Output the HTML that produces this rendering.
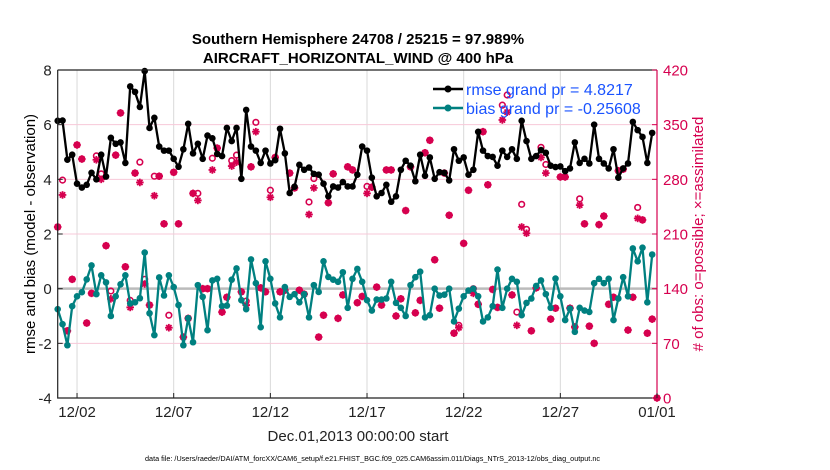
<!DOCTYPE html>
<html><head><meta charset="utf-8"><style>
body{margin:0;background:#fff;}
svg{display:block;font-family:"Liberation Sans",sans-serif;}
</style></head><body>
<svg id="chart" width="830" height="470" viewBox="0 0 830 470" xmlns="http://www.w3.org/2000/svg">
<rect width="830" height="470" fill="#fff"/>
<g id="grid"></g>
<g id="marks"></g>
<g id="axes"></g>
<text x="358" y="44" text-anchor="middle" font-size="15" font-weight="bold">Southern Hemisphere 24708 / 25215 = 97.989%</text>
<text x="358" y="63" text-anchor="middle" font-size="15" font-weight="bold">AIRCRAFT_HORIZONTAL_WIND @ 400 hPa</text>
<text transform="translate(35,234) rotate(-90)" text-anchor="middle" font-size="15">rmse and bias (model - observation)</text>
<text transform="translate(703,234) rotate(-90)" text-anchor="middle" font-size="15" fill="#d6004f"># of obs: o=possible; ×=assimilated</text>
<text x="358" y="441" text-anchor="middle" font-size="15" fill="#222">Dec.01,2013 00:00:00 start</text>
<text x="145" y="461" font-size="7" textLength="455" lengthAdjust="spacingAndGlyphs" fill="#000">data file: /Users/raeder/DAI/ATM_forcXX/CAM6_setup/f.e21.FHIST_BGC.f09_025.CAM6assim.011/Diags_NTrS_2013-12/obs_diag_output.nc</text>
<g>
<line x1="433" y1="89" x2="463" y2="89" stroke="#000" stroke-width="2.5"/>
<circle cx="448" cy="89" r="3.5" fill="#000"/>
<text x="466" y="95" font-size="16" fill="#1a53ff">rmse grand pr = 4.8217</text>
<line x1="433" y1="108" x2="463" y2="108" stroke="#008080" stroke-width="2.5"/>
<circle cx="448" cy="108" r="3.5" fill="#008080"/>
<text x="466" y="114" font-size="16" fill="#1a53ff">bias grand pr = -0.25608</text>
</g>
</svg>
<script>
const rmse=[6.14,6.15,4.72,4.9,3.84,3.7,3.8,4.24,4.0,4.9,4.1,5.52,5.3,5.35,4.6,7.4,7.2,6.65,7.96,5.88,6.25,5.2,5.05,5.05,4.75,4.46,5.1,6.03,4.95,5.3,4.75,
5.6,5.5,4.93,4.85,5.88,5.4,5.88,4.02,6.54,5.2,5.05,4.6,5.05,4.58,4.7,5.85,4.95,3.5,3.73,4.53,4.35,4.43,4.2,4.17,3.84,3.38,3.74,3.7,3.9,3.74,
3.74,4.17,5.2,5.05,4.06,3.38,3.5,3.8,3.18,3.38,4.35,4.68,4.5,3.93,4.9,4.13,4.8,4.02,4.26,4.24,3.96,5.1,4.68,4.8,4.17,4.35,5.74,5.05,4.85,4.82,
4.5,5.05,4.82,5.1,4.75,6.14,5.4,4.75,4.85,5.07,4.97,4.5,4.45,4.47,4.3,4.4,5.35,4.6,4.75,4.58,6.0,4.75,4.58,4.4,5.1,4.06,4.4,4.58,6.1,5.8,
5.55,4.6,5.7];
const bias=[-0.75,-1.3,-2.07,-0.64,-0.28,-0.13,0.34,0.85,-0.2,0.49,0.23,-1.0,-0.28,0.16,0.49,-0.54,-0.5,-0.35,1.32,-0.9,-1.7,0.41,-0.25,0.49,0.06,-0.6,-2.07,-1.08,-1.96,0.13,-0.3,
-1.52,0.3,0.36,-0.64,-0.62,0.33,0.74,-0.42,-0.75,1.07,0.2,-1.41,1.0,0.36,-0.54,-1.05,0.06,-0.3,-0.2,-0.5,-0.2,-1.05,0.13,-0.12,1.0,0.43,0.33,0.25,0.6,-0.7,
0.36,0.72,0.25,-0.42,-0.8,-0.4,-0.4,-0.36,0.25,-0.52,-0.7,-1.0,0.13,0.42,0.62,-1.05,-0.97,0.0,-0.25,-0.22,0.0,-1.2,-0.73,-0.28,-0.07,0.0,-0.28,-1.2,-1.05,-0.64,
0.7,-0.7,0.0,0.36,0.25,-0.97,-0.52,-0.36,0.1,0.3,-0.2,-0.7,0.37,-0.28,-1.15,-0.73,-1.58,-0.7,-0.8,-0.85,0.2,0.36,0.2,0.36,-1.15,-0.36,0.42,-0.28,1.47,1.0,
1.5,-0.5,1.25];
const nAssim=[219,260,86,152,324,306,96,134,305,280,195,127,311,365,168,116,288,276,146,119,259,284,223,90,289,223,78,102,262,253,140,
140,292,320,110,129,297,302,136,119,296,341,141,136,257,308,136,138,288,269,138,133,235,269,78,106,250,287,102,132,296,
292,122,130,262,270,142,119,292,292,105,127,240,296,109,125,314,330,177,115,288,234,83,90,198,266,134,120,341,273,139,
116,356,366,132,93,219,211,86,141,308,288,101,115,283,283,115,91,247,223,92,70,222,233,120,129,291,293,87,129,230,
228,83,101,0];
const nPoss=[219,279,86,152,324,306,96,134,310,287,195,137,311,365,168,125,288,302,152,119,284,284,223,106,289,223,78,102,262,262,140,
140,307,320,110,129,304,311,136,124,296,353,141,136,266,308,136,138,288,269,138,133,251,281,78,106,250,287,102,132,296,
292,122,130,271,270,142,119,292,292,105,127,240,296,109,125,314,330,177,115,288,234,83,93,198,266,140,120,341,273,139,
116,375,388,132,110,248,216,86,141,321,299,101,115,283,283,115,91,255,223,92,70,222,233,120,129,291,293,87,129,244,
228,83,101,0];
const xTickDays=[1,6,11,16,21,26,31];
const xTickLabels=["12/02","12/07","12/12","12/17","12/22","12/27","01/01"];
const yTicks=[-4,-2,0,2,4,6,8];
const rTicks=[0,70,140,210,280,350,420];

const X0=57.7,X1=657,Y0=70,Y1=398;
const xs=d=>X0+(X1-X0)*d/31;
const ys=v=>Y1-(Y1-Y0)*(v+4)/12;
const yr=n=>Y1-(Y1-Y0)*n/420;
const dayOf=i=>i*0.25;
const NS="http://www.w3.org/2000/svg";
function mk(tag,attrs,parent){const e=document.createElementNS(NS,tag);for(const k in attrs)e.setAttribute(k,attrs[k]);parent.appendChild(e);return e;}
const grid=document.getElementById('grid'),marks=document.getElementById('marks'),axes=document.getElementById('axes');
const MAG="#d6004f";
xTickDays.forEach(d=>{const l=mk('line',{x1:xs(d),x2:xs(d),y1:Y0,y2:Y1,stroke:'#d9d9d9','stroke-width':1},grid);

});
rTicks.forEach(n=>{if(n>0&&n<420){const l=mk('line',{x1:X0,x2:X1,y1:yr(n),y2:yr(n),stroke:'#f7c8d8','stroke-width':1},grid);

}});
const zl=mk('line',{x1:X0,x2:X1,y1:ys(0),y2:ys(0),stroke:'#bbb','stroke-width':2.5},grid);


function star(cx,cy,name){const g=mk('g',{},marks);


[[0,1],[1,0],[0.7,0.7],[0.7,-0.7]].forEach(([a,b])=>mk('line',{x1:cx-a*3.8,y1:cy-b*3.8,x2:cx+a*3.8,y2:cy+b*3.8,stroke:MAG,'stroke-width':1.8},g));
mk('circle',{cx:cx,cy:cy,r:2,fill:MAG},g);}
nPoss.forEach((n,i)=>{const c=mk('circle',{cx:xs(dayOf(i)),cy:yr(n),r:2.8,fill:'none',stroke:MAG,'stroke-width':1.6},marks);

});
nAssim.forEach((n,i)=>star(xs(dayOf(i)),yr(n),'obs-assimilated-point'));
function series(vals,color,name){
const pts=vals.map((v,i)=>xs(dayOf(i)).toFixed(1)+','+ys(v).toFixed(1)).join(' ');
const pl=mk('polyline',{points:pts,fill:'none',stroke:color,'stroke-width':2.3,'stroke-linejoin':'round'},marks);


vals.forEach((v,i)=>{const c=mk('circle',{cx:xs(dayOf(i)),cy:ys(v),r:3.3,fill:color},marks);

});}
series(bias,'#008080','bias');
series(rmse,'#000','rmse');
const box=mk('path',{d:`M${X0},${Y0}H${X1}M${X0},${Y0}V${Y1}H${X1}`,fill:'none',stroke:'#222','stroke-width':1.2},axes);


const ra=mk('line',{x1:X1,x2:X1,y1:Y0,y2:Y1,stroke:MAG,'stroke-width':1.2},axes);


yTicks.forEach(v=>{mk('line',{x1:X0,x2:X0+5,y1:ys(v),y2:ys(v),stroke:'#222'},axes);
const t=mk('text',{x:X0-6,y:ys(v)+5.5,'text-anchor':'end','font-size':15,fill:'#222'},axes);t.textContent=v;

});
rTicks.forEach(n=>{mk('line',{x1:X1-5,x2:X1,y1:yr(n),y2:yr(n),stroke:MAG},axes);
const t=mk('text',{x:X1+6,y:yr(n)+5.5,'font-size':15,fill:MAG},axes);t.textContent=n;

});
xTickDays.forEach((d,i)=>{mk('line',{x1:xs(d),x2:xs(d),y1:Y1,y2:Y1-5,stroke:'#222'},axes);
const t=mk('text',{x:xs(d),y:Y1+19,'text-anchor':'middle','font-size':15,fill:'#222'},axes);t.textContent=xTickLabels[i];

});
</script>
</body></html>
